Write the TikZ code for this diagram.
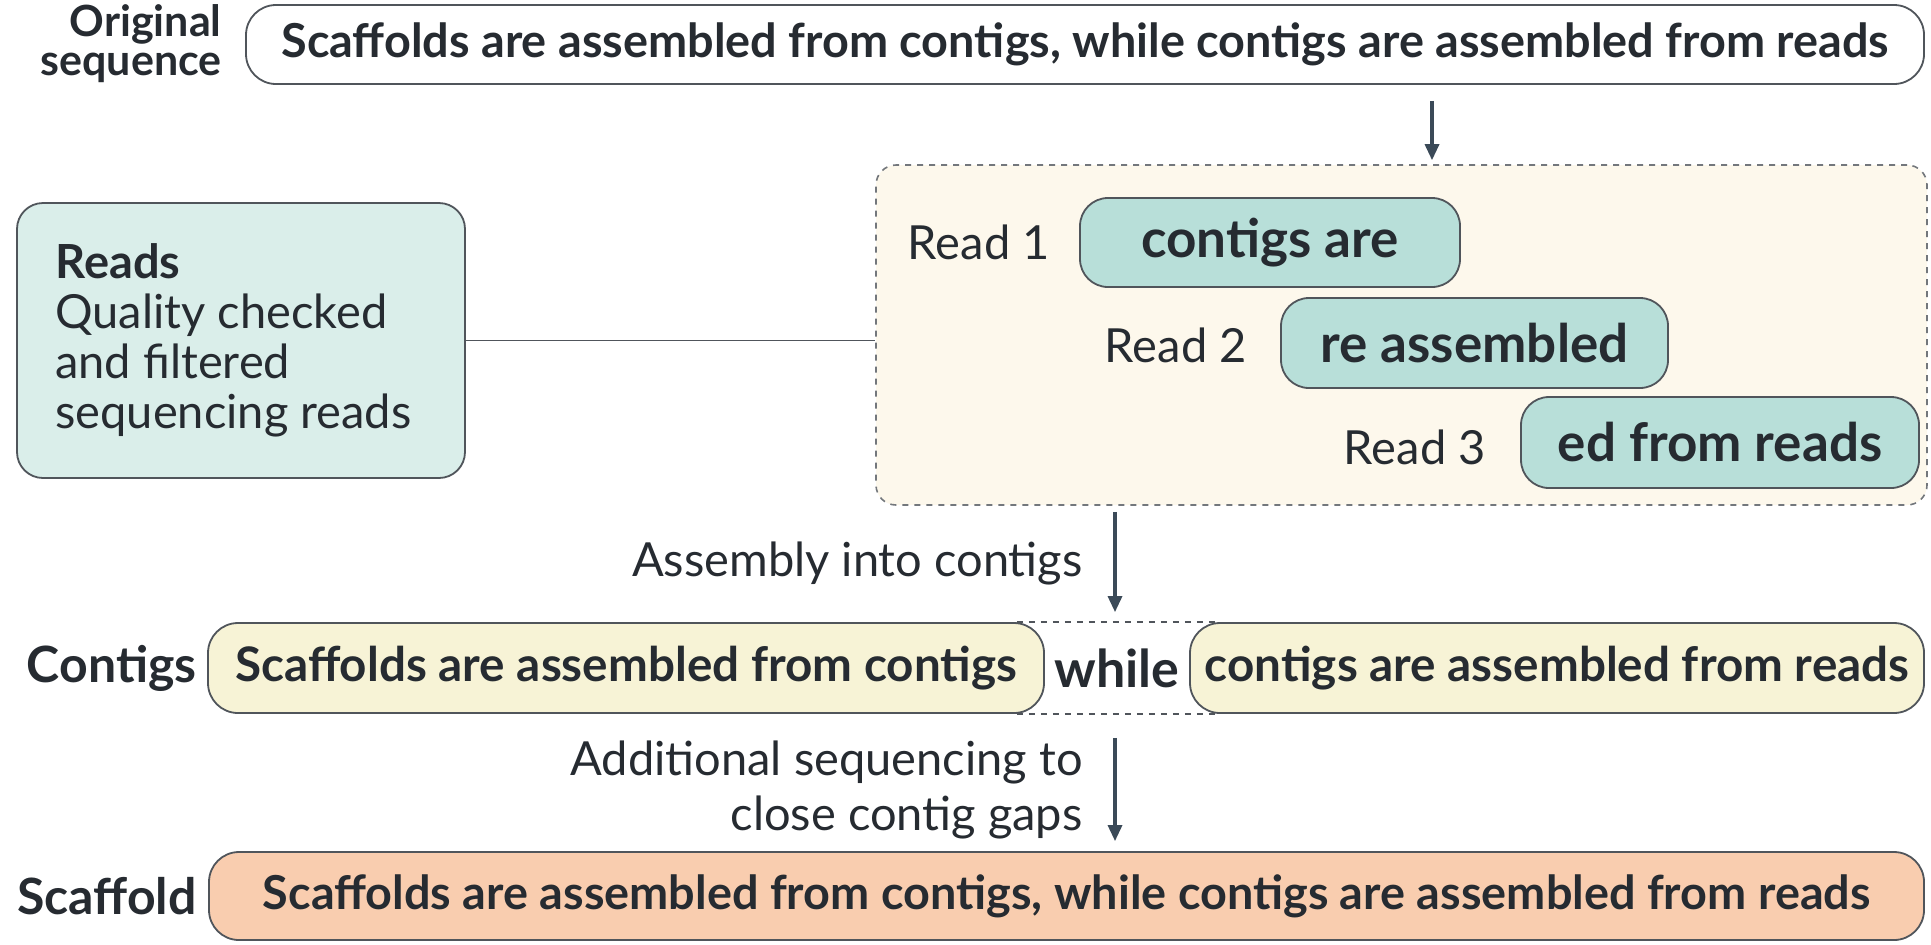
\documentclass[tikz,border=0pt]{standalone}
\usepackage{fontspec}
\setmainfont{Lato}
\usetikzlibrary{arrows.meta}
\definecolor{txt}{HTML}{262B31}
\definecolor{edge}{HTML}{50555B}
\definecolor{arrC}{HTML}{3B4A58}
\definecolor{readsF}{HTML}{DAEEEA}
\definecolor{readF}{HTML}{B8DFD9}
\definecolor{grpF}{HTML}{FDF8EC}
\definecolor{contF}{HTML}{F7F3D6}
\definecolor{scafF}{HTML}{F9CDAF}
\tikzset{
  big/.style={font=\fontsize{23.8}{28}\selectfont\bfseries, text=txt},
  full/.style={font=\fontsize{23.4}{28}\selectfont\bfseries, text=txt},
  lab/.style={font=\fontsize{25}{18}\selectfont\bfseries, text=txt},
  reg/.style={font=\fontsize{23.5}{28}\selectfont, text=txt},
  seqbox/.style={draw=edge, line width=0.9pt, rounded corners=15pt, inner sep=0pt, big},
  readbox/.style={draw=edge, line width=0.9pt, rounded corners=14pt, fill=readF, inner sep=0pt, font=\fontsize{26.5}{30}\selectfont\bfseries, text=txt},
  arr/.style={draw=arrC, line width=1.6pt, -{Triangle[length=8pt,width=7pt]}},
}
\begin{document}
\begin{tikzpicture}[x=0.5pt,y=-0.5pt]
\useasboundingbox (0,0) rectangle (1931,944);
% original
\node[seqbox, full, fill=white, minimum width=839pt, minimum height=39.5pt] (orig) at (1085,44.5)
  {Scaffolds are assembled from contigs, while contigs are assembled from reads};
\node[lab, anchor=east, align=right, inner sep=0pt, font=\fontsize{21.5}{19.5}\selectfont\bfseries] (origlab) at (222,44) {Original\\sequence};
% group
\node[draw=edge!80, dashed, line width=0.8pt, rounded corners=10pt, fill=grpF, minimum width=525.5pt, minimum height=170pt, inner sep=0pt] (grp) at (1401.5,335) {};
\node[readbox, minimum width=190pt, minimum height=44.5pt] (r1) at (1270,242.5) {contigs are};
\node[readbox, minimum width=193.5pt, minimum height=45pt] (r2) at (1474.5,343) {re assembled};
\node[readbox, minimum width=199pt, minimum height=45.5pt] (r3) at (1720,442.5) {ed from reads};
\node[reg, anchor=east, inner sep=0pt] (l1) at (1050,242) {Read 1};
\node[reg, anchor=east, inner sep=0pt] (l2) at (1247,345) {Read 2};
\node[reg, anchor=east, inner sep=0pt] (l3) at (1486,447) {Read 3};
% reads
\node[draw=edge, line width=0.9pt, rounded corners=13pt, fill=readsF, minimum width=224pt, minimum height=137.5pt, inner sep=0pt] (reads) at (241,340.5) {};
\node[reg, anchor=west, align=left, inner sep=0pt, font=\fontsize{23.5}{25}\selectfont] (readstxt) at (55,340)
  {\textbf{Reads}\\Quality checked\\and filtered\\sequencing reads};
\draw[edge, line width=0.9pt] (reads.east) -- (reads.east -| grp.west);
% arrow 1
\coordinate (ax) at (1432,0);
\draw[arr, shorten <=8pt, shorten >=2pt] (ax |- orig.south) -- (ax |- grp.north);
% contigs
\node[seqbox, fill=contF, minimum width=418pt, minimum height=45pt] (c1) at (626,668) {Scaffolds are assembled from contigs};
\node[seqbox, fill=contF, minimum width=367pt, minimum height=45pt] (c2) at (1557,668) {contigs are assembled from reads};
\node[big, inner sep=0pt, font=\fontsize{26}{28}\selectfont\bfseries] (while) at (1117,668) {while};
\node[lab, anchor=east, inner sep=0pt] (contlab) at (197,668) {Contigs};
\draw[edge, dashed, line width=0.8pt] ([xshift=-14pt]c1.north east) -- ([xshift=14pt]c2.north west);
\draw[edge, dashed, line width=0.8pt] ([xshift=-14pt]c1.south east) -- ([xshift=14pt]c2.south west);
% arrow 2
\coordinate (bx) at (1115,0);
\draw[arr, shorten <=3pt, shorten >=5pt] (bx |- grp.south) -- (bx |- c1.north);
\node[reg, anchor=east, inner sep=0pt] (asm) at (1083,563) {Assembly into contigs};
% scaffold
\node[seqbox, full, fill=scafF, minimum width=857.5pt, minimum height=44pt] (sc) at (1066.5,896)
  {Scaffolds are assembled from contigs, while contigs are assembled from reads};
\node[lab, anchor=east, inner sep=0pt] (sclab) at (197,896) {Scaffold};
\draw[arr, shorten <=12pt, shorten >=5pt] (bx |- c1.south) -- (bx |- sc.north);
\node[reg, anchor=east, align=right, inner sep=0pt, font=\fontsize{23.5}{27.5}\selectfont] (addl) at (1083,790) {Additional sequencing to\\close contig gaps};
\end{tikzpicture}
\end{document}
